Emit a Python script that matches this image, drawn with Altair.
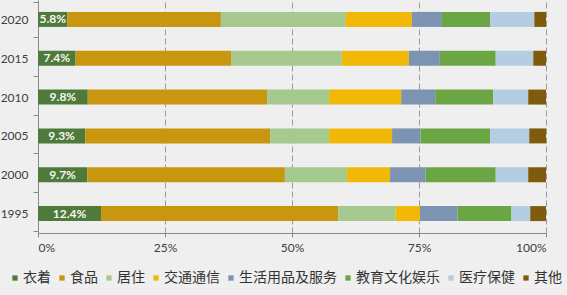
import altair as alt
import pandas as pd

years = ["2020", "2015", "2010", "2005", "2000", "1995"]
categories = ["衣着", "食品", "居住", "交通通信", "生活用品及服务", "教育文化娱乐", "医疗保健", "其他"]
colors = ["#4E7A3C", "#C8960F", "#A5C98E", "#F2B807", "#7C93B2", "#6BA645", "#B4CDE2", "#7E5C0C"]

# share (%) per year, in category order
v2020 = [5.8, 30.2, 24.6, 13.0, 5.9, 9.5, 8.7, 2.3]
v2015 = [7.4, 30.6, 21.8, 13.2, 6.1, 11.0, 7.4, 2.5]
v2010 = [9.8, 35.3, 12.2, 14.2, 6.7, 11.4, 6.9, 3.5]
v2005 = [9.3, 36.4, 11.6, 12.4, 5.6, 13.7, 7.7, 3.3]
v2000 = [9.7, 38.9, 12.2, 8.5, 7.0, 13.8, 6.4, 3.5]
v1995 = [12.4, 46.7, 11.3, 4.8, 7.4, 10.6, 3.7, 3.1]
series = [v2020, v2015, v2010, v2005, v2000, v1995]

rows = []
for y, vals in zip(years, series):
    for i, (c, v) in enumerate(zip(categories, vals)):
        rows.append({"year": y, "cat": c, "idx": i, "value": v})
df = pd.DataFrame(rows)

ysc = alt.Y("year:N", sort=years, title=None,
            axis=alt.Axis(labelFontSize=12, labelColor="#404040", labelFont="Lato",
                          labelPadding=5, tickSize=5, tickBand="extent",
                          domainColor="#8A8A8A", tickColor="#8A8A8A", grid=False))

bars = alt.Chart(df).mark_bar(size=15).encode(
    x=alt.X("value:Q", stack="zero", scale=alt.Scale(domain=[0, 100]), title=None,
            axis=alt.Axis(values=[0, 25, 50, 75, 100], labelExpr="datum.value + '%'",
                          labelFontSize=12, labelColor="#404040", labelFont="Lato",
                          labelPadding=5, tickSize=4, grid=True, gridDash=[6, 3],
                          gridColor="#9A9A9A", domainColor="#8A8A8A", tickColor="#8A8A8A")),
    y=ysc,
    color=alt.Color("cat:N", scale=alt.Scale(domain=categories, range=colors),
                    legend=alt.Legend(title=None, orient="none", legendX=-30, legendY=271,
                                      direction="horizontal", columns=8, symbolType="square",
                                      symbolSize=28, symbolStrokeWidth=0, labelFontSize=14,
                                      labelFont="Noto Sans CJK SC", labelColor="#333333",
                                      labelOffset=1, columnPadding=4, padding=0)),
    order=alt.Order("idx:Q"),
)

labels = alt.Chart(df).transform_filter(alt.datum.cat == "衣着").transform_calculate(
    mid="datum.value / 2",
    txt="format(datum.value, '.1f') + '%'",
).mark_text(color="#F7F7EE", fontWeight="bold", fontSize=12, font="Lato").encode(
    x=alt.X("mid:Q"),
    y=alt.Y("year:N", sort=years),
    text="txt:N",
)

chart = alt.layer(bars, labels).properties(
    width=508, height=233,
    autosize=alt.AutoSizeParams(type="none"),
    padding={"left": 38, "top": 0, "right": 21, "bottom": 62},
    background="#EFEFEF",
).configure_view(stroke=None)

chart.save("out.html", embed_options={"renderer": "svg", "actions": False})
